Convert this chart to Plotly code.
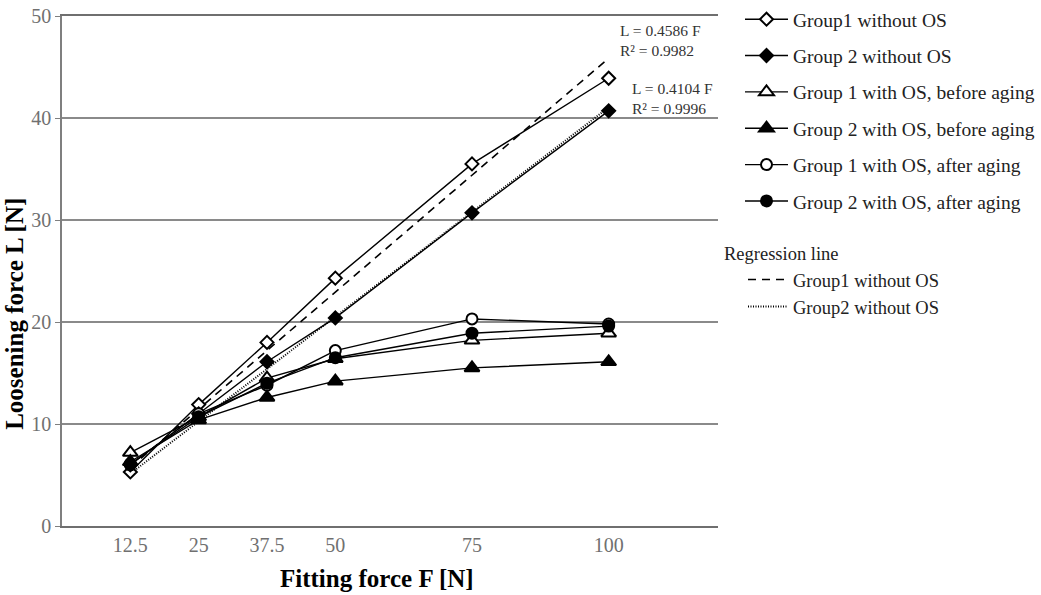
import plotly.graph_objects as go

# Fitting force levels (N)
fitting_force = [12.5, 25, 37.5, 50, 75, 100]

# Loosening force (N) for each test group
g1_without_os = [5.3, 11.9, 18.0, 24.3, 35.5, 43.9]
g2_without_os = [6.0, 11.0, 16.1, 20.4, 30.7, 40.7]
g1_os_before = [7.2, 10.7, 14.5, 16.4, 18.2, 18.9]
g2_os_before = [6.3, 10.4, 12.6, 14.2, 15.5, 16.1]
g1_os_after = [6.0, 11.0, 13.8, 17.2, 20.3, 19.8]
g2_os_after = [6.1, 10.7, 14.0, 16.5, 18.9, 19.6]

# Linear regression through the origin (L = k * F)
slope_g1 = 0.4586
slope_g2 = 0.4104
r2_g1 = 0.9982
r2_g2 = 0.9996
reg_force = [12.5, 100]

tick_values = [12.5, 25, 37.5, 50, 75, 100]
tick_labels = ["12.5", "25", "37.5", "50", "75", "100"]

SERIF = "Liberation Serif, Times New Roman, serif"

series = [
    ("Group1 without OS", g1_without_os, "diamond", "white", 10),
    ("Group 2 without OS", g2_without_os, "diamond", "black", 10),
    ("Group 1 with OS, before aging", g1_os_before, "triangle-up", "white", 13),
    ("Group 2 with OS, before aging", g2_os_before, "triangle-up", "black", 13),
    ("Group 1 with OS, after aging", g1_os_after, "circle", "white", 11),
    ("Group 2 with OS, after aging", g2_os_after, "circle", "black", 11),
]

fig = go.Figure()

# Regression lines underneath the measured data
fig.add_trace(go.Scatter(
    x=reg_force, y=[slope_g1 * f for f in reg_force], mode="lines",
    name="Group1 without OS", legend="legend2",
    line=dict(color="black", width=1.6, dash="8px,6px"),
))
fig.add_trace(go.Scatter(
    x=reg_force, y=[slope_g2 * f for f in reg_force], mode="lines",
    name="Group2 without OS", legend="legend2",
    line=dict(color="black", width=2, dash="1px,1.5px"),
))

for i, (name, values, symbol, fill, size) in enumerate(series):
    fig.add_trace(go.Scatter(
        x=fitting_force, y=values, mode="lines+markers", name=name,
        legendgroup=f"g{i}",
        line=dict(color="black", width=1.4),
        marker=dict(symbol=symbol, size=size, color=fill,
                    line=dict(color="black", width=2)),
    ))

eq_font = dict(family=SERIF, size=15.5, color="#333333")
fig.add_annotation(
    x=109.4, y=47.6, xref="x", yref="y", showarrow=False,
    text=f"L = {slope_g1} F<br>R² = {r2_g1}", align="left", font=eq_font,
)
fig.add_annotation(
    x=111.6, y=41.9, xref="x", yref="y", showarrow=False,
    text=f"L = {slope_g2} F<br>R² = {r2_g2}", align="left", font=eq_font,
)

# Axis titles and the regression legend heading
title_font = dict(family=SERIF, size=25, color="black")
fig.add_annotation(
    x=0.48, y=(526 - 578) / 510, xref="paper", yref="paper",
    xanchor="center", yanchor="middle", showarrow=False,
    text="<b>Fitting force F [N]</b>", font=title_font,
)
fig.add_annotation(
    x=(15 - 62) / 656, y=0.416, xref="paper", yref="paper",
    xanchor="center", yanchor="middle", showarrow=False,
    text="<b>Loosening force L [N]</b>", font=title_font, textangle=-90,
)
fig.add_annotation(
    x=(722 - 62) / 656, y=(526 - 254) / 510, xref="paper", yref="paper",
    xanchor="left", yanchor="middle", showarrow=False,
    text="Regression line",
    font=dict(family=SERIF, size=18.5, color="#222222"),
)

fig.update_layout(
    width=1041, height=595,
    margin=dict(l=62, r=323, t=16, b=69, autoexpand=False),
    paper_bgcolor="white", plot_bgcolor="white",
    font=dict(family=SERIF, color="black"),
    legend=dict(
        xref="container", yref="container",
        x=740 / 1041, y=1.0, xanchor="left", yanchor="top",
        traceorder="grouped", tracegroupgap=8, itemwidth=43,
        font=dict(family=SERIF, size=19.5, color="#222222"),
        bgcolor="rgba(0,0,0,0)",
    ),
    legend2=dict(
        xref="container", yref="container",
        x=743 / 1041, y=1 - 261 / 595, xanchor="left", yanchor="top",
        itemwidth=40,
        font=dict(family=SERIF, size=18.5, color="#222222"),
        bgcolor="rgba(0,0,0,0)", tracegroupgap=0,
    ),
    xaxis=dict(
        range=[0, 120], tickmode="array", tickvals=tick_values,
        ticktext=tick_labels, showgrid=False, zeroline=False,
        showline=True, mirror=True, linecolor="#6f6f6f", linewidth=1.5,
        ticks="",
        tickfont=dict(family=SERIF, size=20, color="#707070"),
    ),
    yaxis=dict(
        range=[0, 50], dtick=10, showgrid=True, gridcolor="#8a8a8a",
        gridwidth=1.5, zeroline=False, showline=True, linecolor="#7f7f7f",
        linewidth=1.5, ticks="outside", ticklen=5, tickcolor="#7f7f7f",
        tickfont=dict(family=SERIF, size=20, color="#707070"),
    ),
)

fig.write_html("out.html")
